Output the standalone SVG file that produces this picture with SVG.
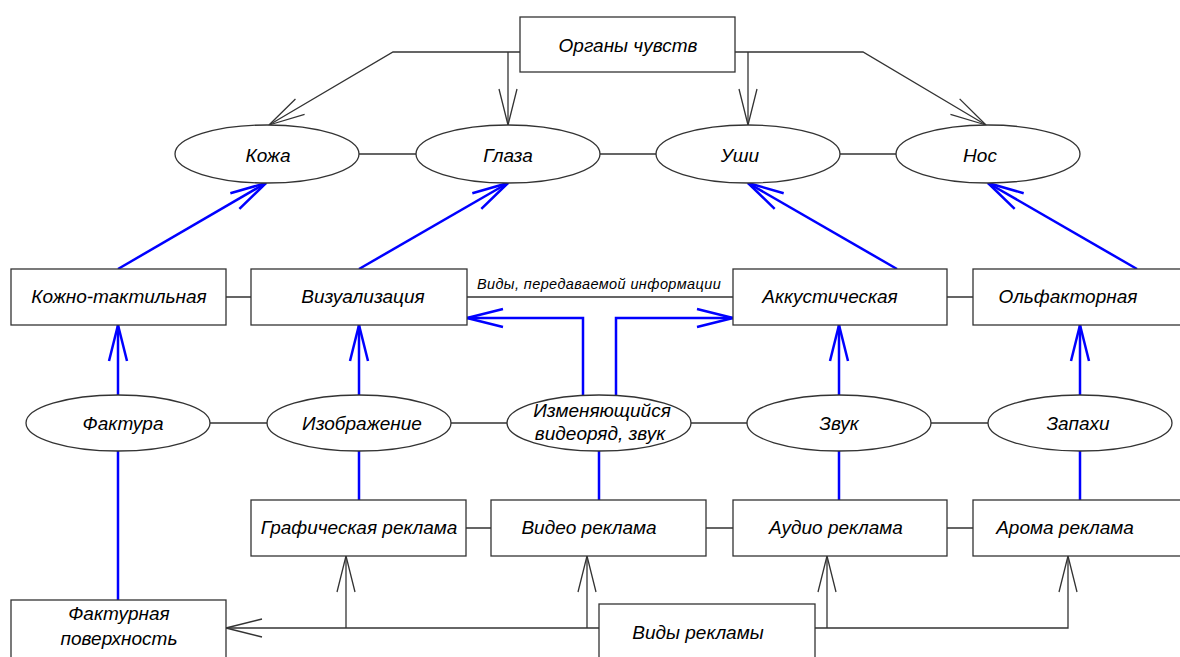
<svg xmlns="http://www.w3.org/2000/svg" width="1180" height="657" viewBox="0 0 1180 657">
<defs>
<marker id="ab" markerUnits="userSpaceOnUse" orient="auto" markerWidth="40" markerHeight="22" refX="0" refY="0" viewBox="-38 -11 40 22" overflow="visible">
<path d="M-36,-9 L0,0 L-36,9" fill="none" stroke="#333" stroke-width="1.3"/>
</marker>
<marker id="au" markerUnits="userSpaceOnUse" orient="auto" markerWidth="40" markerHeight="22" refX="0" refY="0" viewBox="-38 -11 40 22" overflow="visible">
<path d="M-36,-9 L0,0 L-36,9" fill="none" stroke="#0000ff" stroke-width="2.5"/>
</marker>
</defs>
<style>
.n{fill:#fff;stroke:#333;stroke-width:1.3}
.t{font-family:"Liberation Sans",Arial,sans-serif;font-style:italic;font-size:19px;fill:#000;text-anchor:middle}
.s{font-size:14.5px;letter-spacing:0.4px}
.k{fill:none;stroke:#333;stroke-width:1.3}
.b{fill:none;stroke:#0000ff;stroke-width:2.5}
</style>
<rect width="1180" height="657" fill="#fff"/>
<g id="connectors">
<path class="k" d="M520,52 H393 L269,125" marker-end="url(#ab)"/>
<path class="k" d="M508,52 V125" marker-end="url(#ab)"/>
<path class="k" d="M735,52 H863 L986,125" marker-end="url(#ab)"/>
<path class="k" d="M748,52 V125" marker-end="url(#ab)"/>
<path class="k" d="M359,154 H416 M600,154 H657 M840,154 H897"/>
<path class="k" d="M226,297 H251 M467,297 H733 M947,297 H973"/>
<path class="k" d="M210,423 H268 M451,423 H507 M691,423 H748 M931,423 H988"/>
<path class="k" d="M466,528 H491 M706,528 H733 M947,528 H973"/>
<path class="k" d="M599,628 H226" marker-end="url(#ab)"/>
<path class="k" d="M346,628 V556" marker-end="url(#ab)"/>
<path class="k" d="M587,628 V556" marker-end="url(#ab)"/>
<path class="k" d="M815,628 H1068 V556" marker-end="url(#ab)"/>
<path class="k" d="M827,628 V556" marker-end="url(#ab)"/>
<path class="b" d="M118,269 L266,183" marker-end="url(#au)"/>
<path class="b" d="M359,269 L508,183" marker-end="url(#au)"/>
<path class="b" d="M897,269 L748,183" marker-end="url(#au)"/>
<path class="b" d="M1137,269 L988,183" marker-end="url(#au)"/>
<path class="b" d="M583,396 V318 H467" marker-end="url(#au)"/>
<path class="b" d="M616,396 V318 H733" marker-end="url(#au)"/>
<path class="b" d="M118,395 V325" marker-end="url(#au)"/>
<path class="b" d="M359,395 V325" marker-end="url(#au)"/>
<path class="b" d="M839,395 V325" marker-end="url(#au)"/>
<path class="b" d="M1080,395 V325" marker-end="url(#au)"/>
<path class="b" d="M118,451 V600 M359,451 V500 M599,451 V500 M839,451 V500 M1080,451 V500"/>
<text class="t s" x="599" y="289">Виды, передаваемой информации</text>
</g>
<g id="organy"><rect class="n" x="520" y="17" width="215" height="55"/><text class="t" x="628" y="52">Органы чувств</text></g>
<g id="kozha"><ellipse class="n" cx="267" cy="154" rx="92" ry="29"/><text class="t" x="268" y="162">Кожа</text></g>
<g id="glaza"><ellipse class="n" cx="508" cy="154" rx="92" ry="29"/><text class="t" x="508" y="162">Глаза</text></g>
<g id="ushi"><ellipse class="n" cx="748" cy="154" rx="92" ry="29"/><text class="t" x="740" y="162">Уши</text></g>
<g id="nos"><ellipse class="n" cx="988" cy="154" rx="92" ry="29"/><text class="t" x="980" y="162">Нос</text></g>
<g id="kozhno"><rect class="n" x="11" y="269" width="215" height="56"/><text class="t" x="119" y="303">Кожно-тактильная</text></g>
<g id="vizual"><rect class="n" x="251" y="269" width="216" height="56"/><text class="t" x="363" y="303">Визуализация</text></g>
<g id="akkust"><rect class="n" x="733" y="269" width="214" height="56"/><text class="t" x="830" y="303">Аккустическая</text></g>
<g id="olfakt"><rect class="n" x="973" y="269" width="215" height="56"/><text class="t" x="1068" y="303">Ольфакторная</text></g>
<g id="faktura"><ellipse class="n" cx="118" cy="423" rx="92" ry="28"/><text class="t" x="123" y="430">Фактура</text></g>
<g id="izobr"><ellipse class="n" cx="359" cy="423" rx="92" ry="28"/><text class="t" x="362" y="430">Изображение</text></g>
<g id="izmen"><ellipse class="n" cx="599" cy="423" rx="92" ry="28"/><text class="t" x="602" y="417">Изменяющийся</text><text class="t" x="600" y="440">видеоряд, звук</text></g>
<g id="zvuk"><ellipse class="n" cx="839" cy="423" rx="92" ry="28"/><text class="t" x="839" y="430">Звук</text></g>
<g id="zapahi"><ellipse class="n" cx="1080" cy="423" rx="92" ry="28"/><text class="t" x="1078" y="430">Запахи</text></g>
<g id="graf"><rect class="n" x="251" y="500" width="215" height="56"/><text class="t" x="359" y="534">Графическая реклама</text></g>
<g id="video"><rect class="n" x="491" y="500" width="215" height="56"/><text class="t" x="589" y="534">Видео реклама</text></g>
<g id="audio"><rect class="n" x="733" y="500" width="214" height="56"/><text class="t" x="836" y="534">Аудио реклама</text></g>
<g id="aroma"><rect class="n" x="973" y="500" width="215" height="56"/><text class="t" x="1065" y="534">Арома реклама</text></g>
<g id="fakturnaya"><rect class="n" x="11" y="600" width="215" height="70"/><text class="t" x="119" y="620">Фактурная</text><text class="t" x="119" y="645">поверхность</text></g>
<g id="vidy"><rect class="n" x="599" y="604" width="216" height="70"/><text class="t" x="698" y="639">Виды рекламы</text></g>
</svg>
